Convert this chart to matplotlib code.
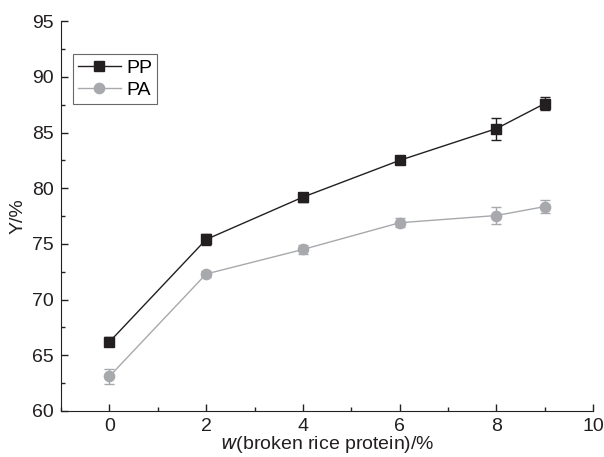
import numpy as np
import matplotlib.pyplot as plt
from matplotlib.ticker import MultipleLocator
from matplotlib.lines import Line2D

plt.rcParams['font.family'] = ['Liberation Sans', 'DejaVu Sans']

x = [0, 2, 4, 6, 8, 9]
pp = [66.2, 75.4, 79.2, 82.5, 85.35, 87.6]
pp_err = [0.4, 0.5, 0.4, 0.2, 1.0, 0.6]
pa = [63.1, 72.3, 74.5, 76.9, 77.55, 78.35]
pa_err = [0.7, 0.3, 0.4, 0.4, 0.8, 0.55]

c_pp = "#231f20"
c_pa = "#a7a9ac"

fig = plt.figure(figsize=(6.04, 4.57), dpi=100)
ax = fig.add_axes([0.101, 0.1007, 0.881, 0.853])

ax.errorbar(x, pp, yerr=pp_err, color=c_pp, marker="s", markersize=6.8,
            linewidth=1, elinewidth=1, capsize=3.5)
ax.errorbar(x, pa, yerr=pa_err, color=c_pa, marker="o", markersize=7.4,
            linewidth=1, elinewidth=1, capsize=3.5)

ax.set_xlim(-1, 10)
ax.set_ylim(60, 95)
ax.xaxis.set_major_locator(MultipleLocator(2))
ax.xaxis.set_minor_locator(MultipleLocator(1))
ax.yaxis.set_major_locator(MultipleLocator(5))
ax.yaxis.set_minor_locator(MultipleLocator(2.5))
ax.tick_params(which="both", direction="in", labelsize=14, width=1, color="#222222",
               labelcolor="#231f20")
ax.tick_params(which="major", length=5, pad=5)
ax.tick_params(which="minor", length=3)
ax.spines["top"].set_visible(False)
ax.spines["right"].set_visible(False)
for s in ("left", "bottom"):
    ax.spines[s].set_color("#222222")

ax.set_xlabel(r"$\mathit{w}$(broken rice protein)/%", fontsize=14, labelpad=-1,
              color="#231f20")
ax.set_ylabel("Y/%", fontsize=14, labelpad=4, color="#231f20")

handles = [Line2D([], [], color=c_pp, marker="s", markersize=6.8, linewidth=1),
           Line2D([], [], color=c_pa, marker="o", markersize=7.4, linewidth=1)]
leg = ax.legend(handles, ["PP", "PA"], loc="upper left", bbox_to_anchor=(0.0226, 0.915),
                fontsize=14, frameon=True, fancybox=False, edgecolor="#444444",
                handlelength=2.2, handletextpad=0.3, borderpad=0.25,
                labelspacing=0.25, borderaxespad=0)
leg.get_frame().set_linewidth(0.8)

plt.savefig("out.png", dpi=100)
